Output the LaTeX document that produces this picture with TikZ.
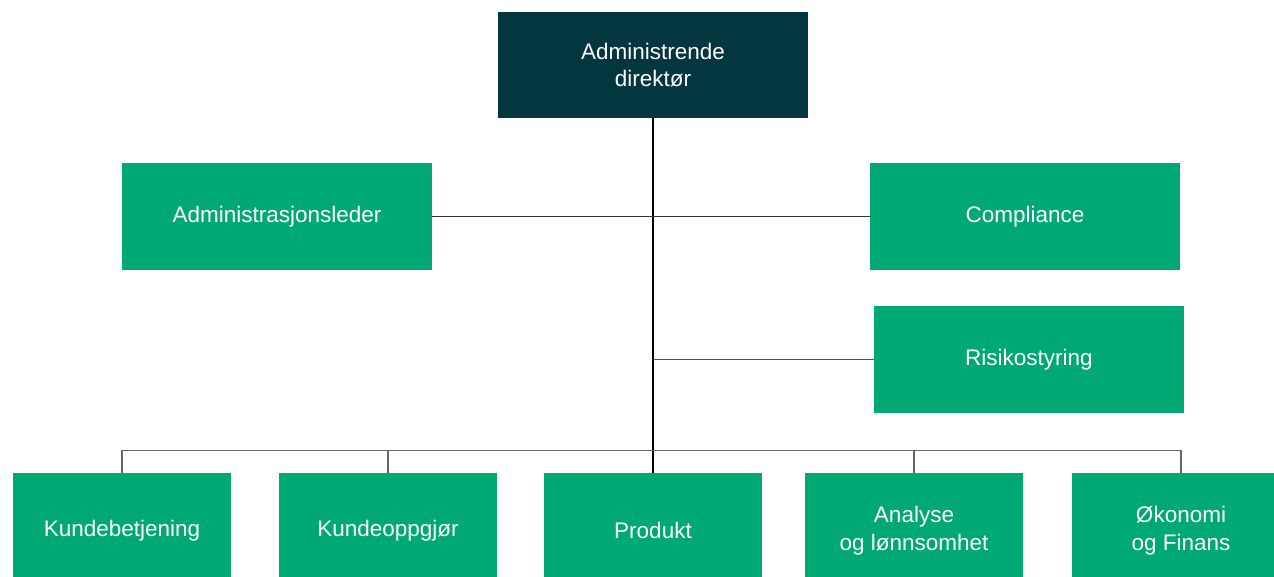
\documentclass[tikz,border=0pt]{standalone}
\usepackage{fontspec}
\setmainfont{Liberation Sans}
\usepackage{tikz}
\usetikzlibrary{positioning}
\definecolor{darkteal}{HTML}{03363F}
\definecolor{boxgreen}{HTML}{00A874}
\definecolor{busgray}{HTML}{666666}
\definecolor{lineteal}{HTML}{2A5F66}
\tikzset{
headbox/.style={fill=darkteal, text=white, minimum width=310pt, minimum height=106pt, align=center, font=\fontsize{22.5}{27.5}\selectfont, inner sep=0pt}, % top box
unitbox/.style={fill=boxgreen, text=white, minimum width=310pt, minimum height=107pt, align=center, font=\fontsize{22.5}{27.5}\selectfont, inner sep=0pt}, % staff boxes
deptbox/.style={unitbox, minimum width=218pt, minimum height=115pt}, % bottom row
link/.style={line width=1.1pt, black},
}

\begin{document}
\begin{tikzpicture}[x=1pt,y=-1pt]
  \useasboundingbox (0,0) rectangle (1274,576);
  \node[headbox] (dir) at (653,65) {Administrende\\direktør};
  \node[unitbox] (adm) at (277,216.5) {Administrasjonsleder};
  \node[unitbox] (comp) at (1025,216.5) {Compliance};
  \node[unitbox] (risk) at (1029,359.5) {Risikostyring};

  \node[deptbox] (kb) at (122,530.5) {Kundebetjening};
  \node[deptbox] (ko) at (388,530.5) {Kundeoppgjør};
  \node[deptbox] (prod) at (653,530.5) {Produkt};
  \node[deptbox] (an) at (914,530.5) {Analyse\\og lønnsomhet};
  \node[deptbox] (ok) at (1181,530.5) {Økonomi\\og Finans};

  \draw[link] (dir.south) -- (prod.north);
  \draw[link, black!80] (adm.east) -- (comp.west);
  \draw[link, lineteal] (dir.south |- risk.west) -- (risk.west);
  \draw[link, busgray] (kb.north) -- ++(0,-22) -| (ok.north);
  \draw[link, busgray] (ko.north) -- ++(0,-22);
  \draw[link, busgray] (an.north) -- ++(0,-22);
\end{tikzpicture}
\end{document}
